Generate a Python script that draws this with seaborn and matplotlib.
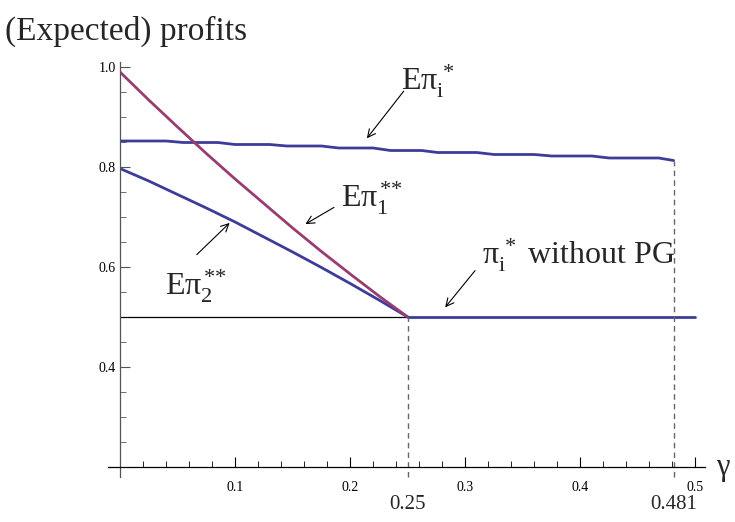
import numpy as np
import pandas as pd
import matplotlib
matplotlib.use("Agg")
import matplotlib.pyplot as plt
import seaborn as sns

# ---- data ----
gamma_pi2 = [0.0, 0.025, 0.05, 0.075, 0.1, 0.125, 0.15, 0.175, 0.2, 0.225, 0.25]
e_pi1 = [0.990, 0.934, 0.880, 0.827, 0.776, 0.727, 0.678, 0.631, 0.586, 0.542, 0.500]
e_pi2 = [0.797, 0.772, 0.745, 0.718, 0.690, 0.660, 0.630, 0.599, 0.567, 0.534, 0.500]

gamma_star = [0.0, 0.040, 0.055, 0.085, 0.100, 0.130, 0.145, 0.175, 0.190, 0.220,
              0.235, 0.262, 0.276, 0.310, 0.325, 0.360, 0.375, 0.410, 0.425, 0.468, 0.481]
e_pi_star = [0.852, 0.852, 0.849, 0.849, 0.845, 0.845, 0.842, 0.842, 0.838, 0.838,
             0.833, 0.833, 0.829, 0.829, 0.825, 0.825, 0.822, 0.822, 0.818, 0.818, 0.813]

gamma_noPG = [0.25, 0.5]
pi_noPG = [0.5, 0.5]

gamma_thin = [0.0, 0.25]
thin_level = [0.5, 0.5]

x_ticks = [0.1, 0.2, 0.3, 0.4, 0.5]
y_ticks = [0.4, 0.6, 0.8, 1.0]
gamma_marks = [0.25, 0.481]
gamma_mark_labels = ["0.25", "0.481"]

BLUE = "#3d3d99"
PURPLE = "#993d71"

sns.set_theme(style="white")
plt.rcParams["font.family"] = ["Liberation Serif", "DejaVu Serif"]
plt.rcParams["mathtext.fontset"] = "custom"
plt.rcParams["mathtext.rm"] = "Liberation Serif"
plt.rcParams["mathtext.it"] = "Liberation Serif:italic"

fig = plt.figure(figsize=(7.35, 5.22), dpi=100)
ax = fig.add_axes([120 / 735, 40 / 522, 610 / 735, 425 / 522])
ax.set_xlim(0.0, 0.53)
ax.set_ylim(0.17, 1.02)

df_star = pd.DataFrame({"g": gamma_star, "v": e_pi_star})
df12 = pd.DataFrame({"g": gamma_pi2, "p1": e_pi1, "p2": e_pi2})
df_no = pd.DataFrame({"g": gamma_noPG, "v": pi_noPG})
df_thin = pd.DataFrame({"g": gamma_thin, "v": thin_level})

sns.lineplot(data=df_thin, x="g", y="v", ax=ax, color="black", lw=0.9, sort=False)
sns.lineplot(data=df_star, x="g", y="v", ax=ax, color=BLUE, lw=2, sort=False)
sns.lineplot(data=df12, x="g", y="p2", ax=ax, color=BLUE, lw=2, sort=False)
sns.lineplot(data=df12, x="g", y="p1", ax=ax, color=PURPLE, lw=2, sort=False)
sns.lineplot(data=df_no, x="g", y="v", ax=ax, color=BLUE, lw=2, sort=False)

# dashed drop lines
ax.vlines(gamma_marks[0], 0.18, pi_noPG[0], colors="#666666", linestyles=(0, (4, 3)), lw=1)
ax.vlines(gamma_marks[1], 0.18, e_pi_star[-1], colors="#666666", linestyles=(0, (4, 3)), lw=1)

# axes in Mathematica style, crossing at (0, 0.2)
for s in ["top", "right"]:
    ax.spines[s].set_visible(False)
ax.spines["left"].set_position(("data", 0))
ax.spines["bottom"].set_position(("data", 0.2))
ax.spines["left"].set_bounds(0.18, 1.01)
ax.spines["bottom"].set_bounds(-0.01, 0.508)
ax.spines["bottom"].set_color("black")
ax.spines["bottom"].set_linewidth(0.9)
ax.spines["left"].set_color("#555555")
ax.spines["left"].set_linewidth(0.9)

ax.set_xticks(x_ticks)
ax.set_xticklabels([f"{t:.1f}" for t in x_ticks])
ax.set_yticks(y_ticks)
ax.set_yticklabels([f"{t:.1f}" for t in y_ticks])
ax.set_xticks(np.arange(0.02, 0.51, 0.02), minor=True)
ax.set_yticks(np.arange(0.25, 1.0, 0.05), minor=True)
ax.tick_params(axis="both", which="both", bottom=True, left=True, top=False, right=False)
ax.tick_params(axis="both", which="major", direction="in", length=7, width=0.8,
               labelsize=10, labelcolor="black")
ax.tick_params(axis="x", which="major", color="black", pad=10)
ax.tick_params(axis="y", which="major", color="#555555", pad=3)
ax.tick_params(axis="x", which="minor", direction="in", length=4, width=0.6, color="black")
ax.tick_params(axis="y", which="minor", direction="in", length=4, width=0.6, color="#555555")
ax.set_xlabel("")
ax.set_ylabel("")
ax.grid(False)

# title & axis labels
fig.text(5 / 735, 1 - 31 / 522, "(Expected) profits", fontsize=24, va="center", ha="left")
ax.annotate("γ", xy=(0.518, 0.2), fontsize=22, va="center", ha="left", annotation_clip=False)
for g, lab in zip(gamma_marks, gamma_mark_labels):
    ax.annotate(lab, xy=(g, 0.2), xytext=(0, -27), textcoords="offset points",
                fontsize=15, ha="center", va="center", annotation_clip=False)

arrow = dict(arrowstyle="->", color="black", lw=0.8, mutation_scale=14)
labels = [
    (r"$\mathrm{E\pi_{i}^{\,*}}$", (0.268, 0.972), (0.213, 0.853), (0.248, 0.956)),
    (r"$\mathrm{E\pi_{1}^{\,{*}{*}}}$", (0.219, 0.738), (0.159, 0.683), (0.188, 0.722)),
    (r"$\mathrm{E\pi_{2}^{\,{*}{*}}}$", (0.066, 0.562), (0.097, 0.692), (0.065, 0.621)),
    (r"$\mathrm{\pi_{i}^{\,*}}$ without PG", (0.398, 0.624), (0.281, 0.515), (0.310, 0.597)),
]
for txt, pos, tip, tail in labels:
    ax.text(pos[0], pos[1], txt, fontsize=23, ha="center", va="center")
    ax.annotate("", xy=tip, xytext=tail, arrowprops=arrow)

fig.savefig("out.png", dpi=100)
